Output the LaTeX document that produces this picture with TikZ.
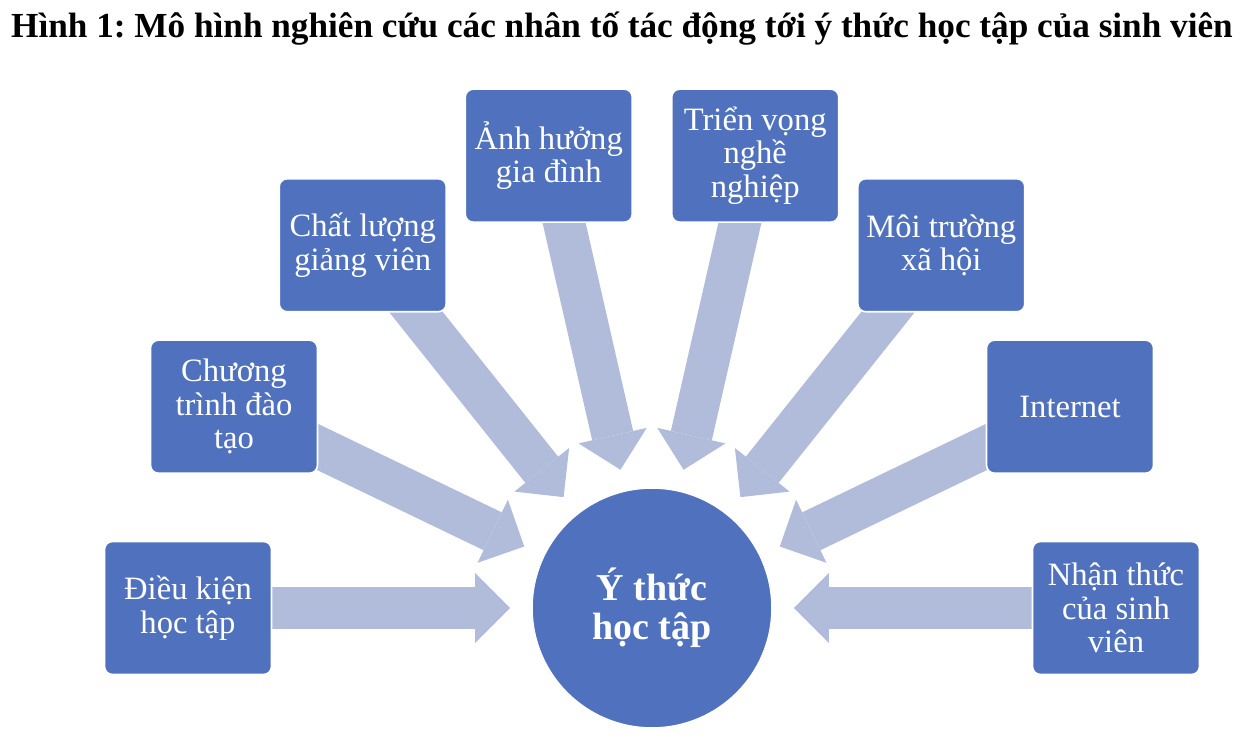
\documentclass[tikz,border=0pt]{standalone}
\usepackage{fontspec}
\setmainfont{Liberation Serif}
\usetikzlibrary{arrows.meta,calc,backgrounds}
\definecolor{boxblue}{HTML}{5072BE}
\definecolor{arrowblue}{HTML}{B1BCDB}
\frenchspacing
\begin{document}
\begin{tikzpicture}[x=0.5pt,y=0.5pt,
  factor/.style={rectangle, rounded corners=4pt, fill=boxblue, draw=white, line width=0.8pt,
    minimum width=83.5pt, minimum height=66.5pt, text=white, align=center,
    font=\fontsize{16.3}{16.8}\selectfont, inner sep=2pt},
  core/.style={circle, fill=boxblue, draw=white, line width=0.8pt, minimum size=120pt,
    text=white, align=center, font=\bfseries\fontsize{19}{19.5}\selectfont},
  flow/.style={draw=arrowblue, line width=21pt,
    -{Triangle[length=17.5pt,width=35pt,line width=0pt,fill=arrowblue]}, shorten >=10.5pt}
]
\useasboundingbox (0,0) rectangle (1244,750);
\node[font=\bfseries\fontsize{17.6}{20}\selectfont, anchor=base, inner sep=0pt] (title) at (622,712)
  {Hình 1: Mô hình nghiên cứu các nhân tố tác động tới ý thức học tập của sinh viên};
\node[core] (c) at (652,142) {Ý thức\\học tập};
\node[factor] (f0) at ($(c)+(180:464)$) {Điều kiện\\học tập};
\node[factor] (f1) at ($(c)+(154.2857:464)$) {Chương\\trình đào\\tạo};
\node[factor] (f2) at ($(c)+(128.5714:464)$) {Chất lượng\\giảng viên};
\node[factor] (f3) at ($(c)+(102.8571:464)$) {Ảnh hưởng\\gia đình};
\node[factor] (f4) at ($(c)+(77.1429:464)$) {Triển vọng\\nghề\\nghiệp};
\node[factor] (f5) at ($(c)+(51.4286:464)$) {Môi trường\\xã hội};
\node[factor] (f6) at ($(c)+(25.7143:464)$) {Internet};
\node[factor] (f7) at ($(c)+(0:464)$) {Nhận thức\\của sinh\\viên};
\begin{pgfonlayer}{background}
  \foreach \k in {0,...,7} \draw[flow] (f\k.center) -- (c);
\end{pgfonlayer}
\end{tikzpicture}
\end{document}
